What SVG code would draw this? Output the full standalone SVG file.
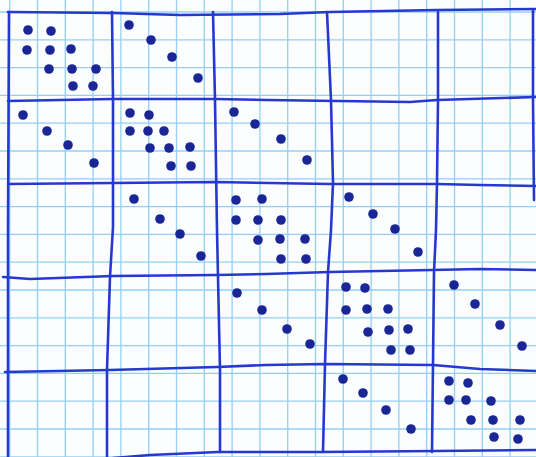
<svg xmlns="http://www.w3.org/2000/svg" width="536" height="457" viewBox="0 0 536 457">
<style>
.g{stroke:#94cff3;stroke-width:1.3;fill:none}
.t{stroke:#2638cf;stroke-width:2.6;fill:none;stroke-linecap:round;stroke-linejoin:round}
.d circle{fill:#1a2696;r:4.8}
</style>
<rect width="536" height="457" fill="#fcfdff"/>
<g id="grid" class="g">
<path d="M9.7 0V457M37.5 0V457M65.3 0V457M93.1 0V457M120.9 0V457M148.7 0V457M176.5 0V457M204.3 0V457M232.1 0V457M259.9 0V457M287.7 0V457M315.5 0V457M343.3 0V457M371.1 0V457M398.9 0V457M426.7 0V457M454.5 0V457M482.3 0V457M510.1 0V457"/>
<path d="M0 12H536M0 39.8H536M0 67.6H536M0 95.4H536M0 123.2H536M0 151H536M0 178.8H536M0 206.6H536M0 234.4H536M0 262.2H536M0 290H536M0 317.8H536M0 345.6H536M0 373.4H536M0 401.2H536M0 429H536M0 456.8H536"/>
</g>
<g id="blocks" class="t">
<path d="M8 12L113 13L180 15L280 14L330 12L437 10L536 9"/>
<path d="M8 101L113 99L215 99L266 100L410 102L437 100L536 97"/>
<path d="M8 184L113 183L215 182L330 184L437 184L480 185L536 186"/>
<path d="M3 277L30 279L113 276L216 275L266 274L330 272L432 270L480 269L536 270"/>
<path d="M5 372L110 370L217 367L266 365L326 364L433 365L480 369L536 371"/>
<path d="M113 458L150 455L218 452L320 452L437 451L536 450"/>
<path d="M9 12L8 230L8 457"/>
<path d="M112 12L113 100L113 227L110 277L107 370L107 457"/>
<path d="M213 12L215 100L217 230L218 277L220 370L220 452"/>
<path d="M327 12L331 100L333 183L331 230L328 272L325 364L323 452"/>
<path d="M438 12L438 100L437 183L436 230L434 272L433 364L432 452"/>
<path d="M533 10L533 100L534 200"/>
</g>
<g id="dots" class="d">
<g id="b11"><circle cx="28" cy="30"/><circle cx="51" cy="31"/><circle cx="27" cy="50"/><circle cx="50" cy="50"/><circle cx="71" cy="49"/><circle cx="49" cy="69"/><circle cx="72" cy="69"/><circle cx="96" cy="69"/><circle cx="73" cy="86"/><circle cx="93" cy="86"/></g>
<g id="b12"><circle cx="129" cy="25"/><circle cx="151" cy="40"/><circle cx="172" cy="57"/><circle cx="198" cy="78"/></g>
<g id="b21"><circle cx="23" cy="115"/><circle cx="47" cy="131"/><circle cx="68" cy="145"/><circle cx="94" cy="163"/></g>
<g id="b22"><circle cx="130" cy="113"/><circle cx="149" cy="115"/><circle cx="130" cy="131"/><circle cx="148" cy="131"/><circle cx="164" cy="131"/><circle cx="150" cy="148"/><circle cx="169" cy="148"/><circle cx="190" cy="147"/><circle cx="171" cy="166"/><circle cx="191" cy="166"/></g>
<g id="b23"><circle cx="234" cy="112"/><circle cx="255" cy="124"/><circle cx="281" cy="139"/><circle cx="307" cy="160"/></g>
<g id="b32"><circle cx="134" cy="199"/><circle cx="160" cy="219"/><circle cx="180" cy="234"/><circle cx="201" cy="256"/></g>
<g id="b33"><circle cx="236" cy="200"/><circle cx="262" cy="199"/><circle cx="236" cy="220"/><circle cx="258" cy="220"/><circle cx="281" cy="220"/><circle cx="258" cy="240"/><circle cx="280" cy="239"/><circle cx="305" cy="239"/><circle cx="281" cy="259"/><circle cx="306" cy="259"/></g>
<g id="b34"><circle cx="349" cy="197"/><circle cx="373" cy="214"/><circle cx="395" cy="229"/><circle cx="418" cy="252"/></g>
<g id="b43"><circle cx="237" cy="293"/><circle cx="262" cy="310"/><circle cx="287" cy="329"/><circle cx="310" cy="344"/></g>
<g id="b44"><circle cx="346" cy="287"/><circle cx="365" cy="288"/><circle cx="346" cy="310"/><circle cx="367" cy="309"/><circle cx="388" cy="309"/><circle cx="368" cy="332"/><circle cx="389" cy="330"/><circle cx="408" cy="329"/><circle cx="391" cy="350"/><circle cx="410" cy="350"/></g>
<g id="b45"><circle cx="454" cy="285"/><circle cx="475" cy="304"/><circle cx="500" cy="325"/><circle cx="522" cy="346"/></g>
<g id="b54"><circle cx="343" cy="379"/><circle cx="363" cy="393"/><circle cx="386" cy="410"/><circle cx="411" cy="429"/></g>
<g id="b55"><circle cx="449" cy="381"/><circle cx="468" cy="383"/><circle cx="449" cy="400"/><circle cx="466" cy="400"/><circle cx="491" cy="401"/><circle cx="471" cy="420"/><circle cx="493" cy="420"/><circle cx="520" cy="420"/><circle cx="494" cy="437"/><circle cx="518" cy="439"/></g>
</g>
</svg>
